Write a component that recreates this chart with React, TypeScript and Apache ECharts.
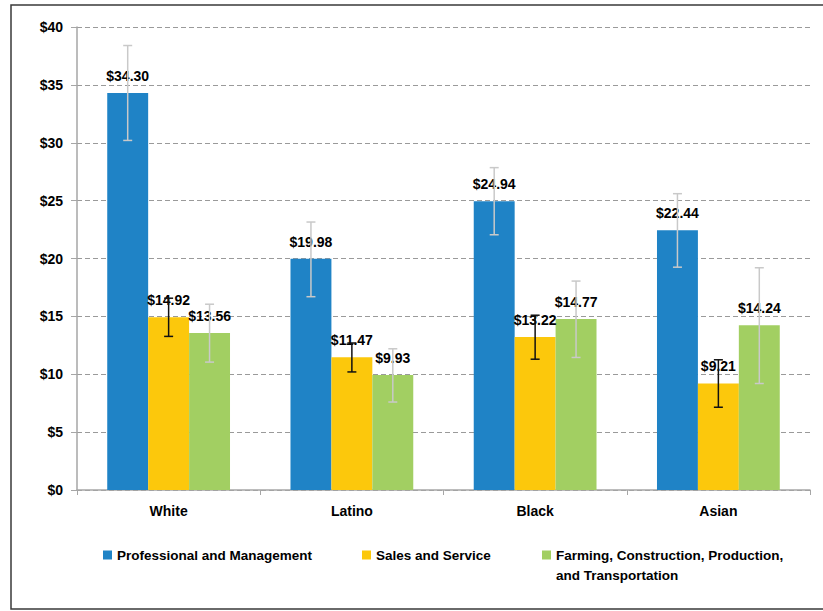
import React, { useEffect, useRef } from "react";
import * as echarts from "echarts";

const categories = ["White", "Latino", "Black", "Asian"];
const seriesNames = [
  "Professional and Management",
  "Sales and Service",
  "Farming, Construction, Production, and Transportation",
];
const professional = [34.3, 19.98, 24.94, 22.44];
const sales = [14.92, 11.47, 13.22, 9.21];
const farming = [13.56, 9.93, 14.77, 14.24];

const professionalLow = [30.2, 16.7, 22.05, 19.25];
const professionalHigh = [38.4, 23.15, 27.85, 25.6];
const salesLow = [13.27, 10.2, 11.3, 7.15];
const salesHigh = [16.57, 12.7, 15.1, 11.25];
const farmingLow = [11.05, 7.6, 11.45, 9.2];
const farmingHigh = [16.05, 12.2, 18.05, 19.2];

const colors = ["#1f83c6", "#fcc80c", "#a2cf62"];
const errColors = ["#c9c9c9", "#111111", "#c9c9c9"];

const FONT = "'Liberation Sans Narrow', 'Arial Narrow', 'Liberation Sans', Arial, sans-serif";

export default function App() {
  const ref = useRef<HTMLDivElement>(null);
  useEffect(() => {
    if (!ref.current) return;
    const chart = echarts.init(ref.current, undefined, { renderer: "svg" });
    const values = [professional, sales, farming];
    const lows = [professionalLow, salesLow, farmingLow];
    const highs = [professionalHigh, salesHigh, farmingHigh];

    const barSeries = values.map((v, idx) => ({
      type: "bar",
      name: seriesNames[idx],
      data: v,
      barGap: "0%",
      barCategoryGap: "33%",
      itemStyle: { color: colors[idx] },
      label: {
        show: true,
        position: "top",
        distance: 10,
        formatter: (p: any) => "$" + Number(p.value).toFixed(2),
        color: "#000",
        fontWeight: "bold",
        fontSize: 14,
        fontFamily: FONT,
      },
      z: 2,
    }));

    const errSeries = values.map((_, idx) => ({
      type: "custom",
      name: seriesNames[idx] + " range",
      silent: true,
      z: 4,
      data: categories.map((_c, i) => [i, lows[idx][i], highs[idx][i]]),
      encode: { x: 0, y: [1, 2] },
      renderItem: (_params: any, api: any) => {
        const ci = api.value(0);
        const lo = api.coord([ci, api.value(1)]);
        const hi = api.coord([ci, api.value(2)]);
        const band = api.size([1, 0])[0];
        const bw = (band * 0.67) / 3;
        const x = lo[0] + (idx - 1) * bw;
        const cap = 4.5;
        const style = { stroke: errColors[idx], lineWidth: 1.5 };
        return {
          type: "group",
          children: [
            { type: "line", shape: { x1: x, y1: hi[1], x2: x, y2: lo[1] }, style },
            { type: "line", shape: { x1: x - cap, y1: hi[1], x2: x + cap, y2: hi[1] }, style },
            { type: "line", shape: { x1: x - cap, y1: lo[1], x2: x + cap, y2: lo[1] }, style },
          ],
        };
      },
    }));

    const legendText = {
      color: "#000",
      fontWeight: "bold",
      fontSize: 13.5,
      fontFamily: FONT,
      lineHeight: 20,
    };

    chart.setOption({
      animation: false,
      backgroundColor: "#fff",
      grid: { left: 77, right: 13, top: 27, bottom: 121 },
      xAxis: {
        type: "category",
        data: categories,
        axisLine: { lineStyle: { color: "#a6a6a6", width: 1.5 } },
        axisTick: { show: true, length: 5, lineStyle: { color: "#a6a6a6" } },
        axisLabel: {
          color: "#000",
          fontWeight: "bold",
          fontSize: 14,
          fontFamily: FONT,
          margin: 14,
        },
      },
      yAxis: {
        type: "value",
        min: 0,
        max: 40,
        interval: 5,
        axisLine: { show: true, lineStyle: { color: "#a6a6a6", width: 1.5 } },
        axisTick: { show: true, length: 6, lineStyle: { color: "#a6a6a6" } },
        axisLabel: {
          color: "#000",
          fontWeight: "bold",
          fontSize: 14,
          fontFamily: FONT,
          margin: 14,
          formatter: (v: number) => "$" + v,
        },
        splitLine: { lineStyle: { color: "#9a9a9a", type: [5, 3], width: 1 } },
      },
      legend: [
        {
          data: [seriesNames[0]],
          left: 103,
          top: 545,
          padding: 0,
          icon: "rect",
          itemWidth: 9,
          itemHeight: 9,
          textStyle: legendText,
        },
        {
          data: [seriesNames[1]],
          left: 362,
          top: 545,
          padding: 0,
          icon: "rect",
          itemWidth: 9,
          itemHeight: 9,
          textStyle: legendText,
        },
        {
          data: [seriesNames[2]],
          left: 542,
          top: 525,
          padding: 0,
          icon: "rect",
          itemWidth: 9,
          itemHeight: 9,
          textStyle: legendText,
          formatter: () => " \nFarming, Construction, Production,\nand Transportation",
        },
      ],
      graphic: [
        {
          type: "rect",
          shape: { x: 11, y: 5, width: 840, height: 604 },
          style: { fill: "none", stroke: "#3a3a3a", lineWidth: 1.5 },
          silent: true,
          z: 100,
        },
      ],
      series: [...barSeries, ...errSeries],
    });
    return () => chart.dispose();
  }, []);
  return (
    <div
      ref={ref}
      style={{ position: "absolute", left: 0, top: 0, width: 823, height: 611 }}
    />
  );
}
